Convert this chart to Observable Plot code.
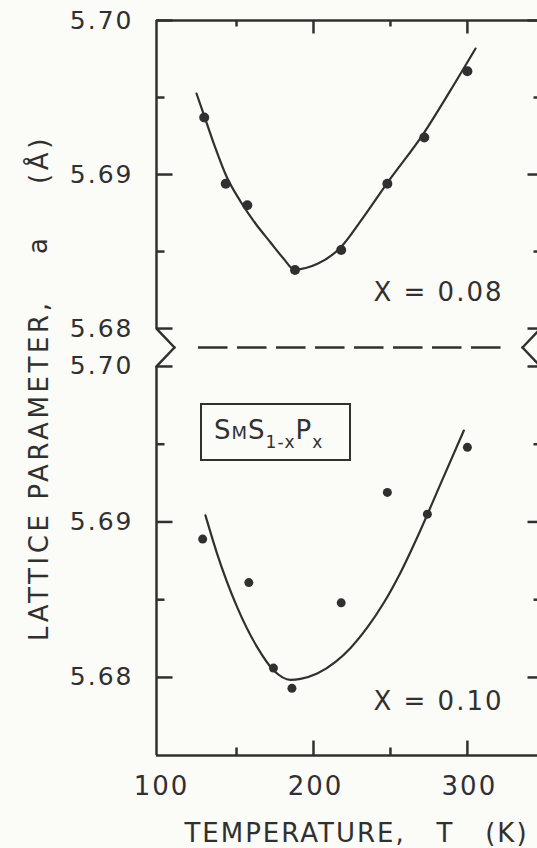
<!DOCTYPE html>
<html>
<head>
<meta charset="utf-8">
<script src="https://cdn.jsdelivr.net/npm/d3@7"></script>
<script src="https://cdn.jsdelivr.net/npm/@observablehq/plot@0.6"></script>
<style>
  html, body { margin: 0; padding: 0; background: #fbfbf8; }
  #wrap { position: relative; width: 537px; height: 848px; overflow: hidden; font-family: "DejaVu Sans"; color: #303030; }
  #wrap svg { display: block; }
  .yt { position: absolute; transform-origin: 0 0; transform: rotate(-90deg) translateY(-50%);
        white-space: pre; font-size: 26px; line-height: 30px; letter-spacing: 3.6px; }
  .formula { position: absolute; left: 200px; top: 403px; width: 151px; height: 58px; box-sizing: border-box;
             border: 2.5px solid #303030; font-size: 26px; line-height: 50px; padding-left: 12px; letter-spacing: 1px; white-space: nowrap; }
  .formula .sm { font-size: 18px; }
  .formula sub { font-size: 17px; vertical-align: -9px; line-height: 0; }
</style>
</head>
<body>
<div id="wrap">
  <div id="topPanel"></div>
  <div id="lowPanel"></div>
  <div class="yt" style="left:39px; top:641px;">LATTICE PARAMETER,</div>
  <div class="yt" style="left:38px; top:254px;">a</div>
  <div class="yt" style="left:39px; top:184px;">(Å)</div>
  <div class="formula">S<span class="sm">M</span>S<sub>1-x</sub>P<sub>x</sub></div>
</div>
<script>
// ---- data ----
// x = 0.08 panel: measured points
const tempTop = [129, 143, 157, 188, 218, 248, 272, 300];
const latTop  = [5.6937, 5.6894, 5.6880, 5.6838, 5.6851, 5.6894, 5.6924, 5.6967];
// x = 0.08 panel: drawn fit curve
const fitTopT = [124.0, 128.5, 135.7, 143.5, 152.6, 162.3, 172.1, 180.5, 187.7, 202.6, 217.6, 231.9, 248.1, 271.5, 289.0, 305.3];
const fitTopA = [5.69526, 5.69396, 5.69188, 5.68987, 5.68825, 5.68682, 5.68559, 5.68455, 5.68383, 5.68420, 5.68526, 5.68715, 5.68948, 5.69266, 5.69546, 5.69818];
// x = 0.10 panel: measured points
const tempLow = [128, 158, 174, 186, 218, 248, 274, 300];
const latLow  = [5.6889, 5.6861, 5.6806, 5.6793, 5.6848, 5.6919, 5.6905, 5.6948];
// x = 0.10 panel: drawn fit curve
const fitLowT = [129.8, 137.4, 150.4, 163.4, 174.2, 185.1, 191.6, 202.4, 214.3, 224.1, 235.1, 245.5, 256.5, 269.5, 282.5, 297.7];
const fitLowA = [5.69042, 5.68795, 5.68452, 5.68195, 5.68045, 5.67985, 5.67991, 5.68025, 5.68100, 5.68190, 5.68323, 5.68477, 5.68674, 5.68947, 5.69243, 5.69588];
// ticks and labels
const xTickLabels = [100, 200, 300];
const xMajorTicks = [200, 300];
const xMinorTicks = [150, 250];
const yMajorTicks = [5.68, 5.69, 5.70];
const yMinorTicks = [5.685, 5.695];
const panelLabels = ["X = 0.08", "X = 0.10"];
const xTitle = "TEMPERATURE,   T   (K)";

// ---- layout ----
const ink = "#303030";
const W = 537, ML = 156, MR = -3;
const xDomain = [98, 347.5];
const topDomain = [5.67877, 5.70];
const lowDomain = [5.67498, 5.70122];
const topH = 347, topMT = 20;
const lowH = 501, lowMB = 93;
const pxPerK = (W - MR - ML) / (xDomain[1] - xDomain[0]);
const pxPerATop = (topH - topMT) / (topDomain[1] - topDomain[0]);
const pxPerALow = (lowH - lowMB) / (lowDomain[1] - lowDomain[0]);
const zz = 18 / pxPerK; // depth of the axis-break zigzag

const obsTop = tempTop.map((t, i) => ({t, a: latTop[i]}));
const obsLow = tempLow.map((t, i) => ({t, a: latLow[i]}));
const fitTop = fitTopT.map((t, i) => ({t, a: fitTopA[i]}));
const fitLow = fitLowT.map((t, i) => ({t, a: fitLowA[i]}));

const common = {
  width: W, marginLeft: ML, marginRight: MR,
  x: {domain: xDomain, label: null, axis: null},
  style: {background: "transparent", overflow: "visible", fontFamily: "DejaVu Sans", color: ink, letterSpacing: "2px"}
};
const sw = 2.5;
const st = {stroke: ink, strokeWidth: sw};

// inward ticks on the left/right frame lines, plus y tick labels
function yTickMarks() {
  const L = px => px / pxPerK;
  const left = (vals, len) => vals.map(v => ({x1: xDomain[0], x2: xDomain[0] + L(len), y: v}));
  const right = (vals, len) => vals.map(v => ({x1: xDomain[1] - L(len), x2: xDomain[1], y: v}));
  const segs = [...left(yMajorTicks, 16), ...left(yMinorTicks, 8), ...right(yMajorTicks, 13), ...right(yMinorTicks, 7)];
  return [
    Plot.link(segs, {x1: "x1", x2: "x2", y1: "y", y2: "y", ...st}),
    Plot.axisY(yMajorTicks, {anchor: "left", tickSize: 0, tickPadding: 23, fontSize: 25, fill: ink, label: null, tickFormat: d3.format(".2f")})
  ];
}
// inward ticks on the top/bottom frame lines
function xTickMarks(base, dir, pxPerA, majLen, minLen) {
  const segs = [...xMajorTicks.map(v => ({x: v, y1: base, y2: base + dir * majLen / pxPerA})),
                ...xMinorTicks.map(v => ({x: v, y1: base, y2: base + dir * minLen / pxPerA}))];
  return Plot.link(segs, {x1: "x", x2: "x", y1: "y1", y2: "y2", ...st});
}

const topPlot = Plot.plot({
  ...common,
  height: topH, marginTop: topMT, marginBottom: 0,
  y: {domain: topDomain, label: null},
  marks: [
    Plot.ruleY([topDomain[1]], st),
    Plot.ruleX([xDomain[0]], {y1: yMajorTicks[0], y2: topDomain[1], ...st}),
    Plot.ruleX([xDomain[1]], {y1: yMajorTicks[0], y2: topDomain[1], ...st}),
    ...yTickMarks(),
    xTickMarks(topDomain[1], -1, pxPerATop, 13, 6),
    Plot.line([[xDomain[0], yMajorTicks[0]], [xDomain[0] + zz, topDomain[0]]], st),
    Plot.line([[xDomain[1], yMajorTicks[0]], [xDomain[1] - zz, topDomain[0]]], st),
    Plot.ruleY([topDomain[0]], {x1: 125.3, x2: 323, ...st, strokeDasharray: "29.5,9.5"}),
    Plot.line(fitTop, {x: "t", y: "a", curve: "monotone-x", stroke: ink, strokeWidth: 2.2}),
    Plot.dot(obsTop, {x: "t", y: "a", r: 5, fill: ink}),
    Plot.text([panelLabels[0]], {text: d => d, frameAnchor: "bottom-right", dx: -37, dy: -55, textAnchor: "end", lineAnchor: "middle", fontSize: 26, fill: ink})
  ]
});

const lowPlot = Plot.plot({
  ...common,
  height: lowH, marginTop: 0, marginBottom: lowMB,
  y: {domain: lowDomain, label: null},
  marks: [
    Plot.ruleY([lowDomain[0]], st),
    Plot.ruleX([xDomain[0]], {y1: lowDomain[0], y2: yMajorTicks[2], ...st}),
    Plot.ruleX([xDomain[1]], {y1: lowDomain[0], y2: yMajorTicks[2], ...st}),
    ...yTickMarks(),
    xTickMarks(lowDomain[0], 1, pxPerALow, 15, 8),
    Plot.axisX(xTickLabels, {anchor: "bottom", tickSize: 0, tickPadding: 21, dx: 2, fontSize: 26, fill: ink, label: null, tickFormat: d => String(d)}),
    Plot.text([xTitle], {text: d => d, frameAnchor: "bottom", dx: 8, dy: 78, lineAnchor: "middle", fontSize: 26, fill: ink}),
    Plot.line([[xDomain[0] + zz, lowDomain[1]], [xDomain[0], yMajorTicks[2]]], st),
    Plot.line([[xDomain[1] - zz, lowDomain[1]], [xDomain[1], yMajorTicks[2]]], st),
    Plot.line(fitLow, {x: "t", y: "a", curve: "monotone-x", stroke: ink, strokeWidth: 2.2}),
    Plot.dot(obsLow, {x: "t", y: "a", r: 4.5, fill: ink}),
    Plot.text([panelLabels[1]], {text: d => d, frameAnchor: "bottom-right", dx: -37, dy: -54, textAnchor: "end", lineAnchor: "middle", fontSize: 26, fill: ink})
  ]
});

document.getElementById("topPanel").append(topPlot);
document.getElementById("lowPanel").append(lowPlot);
</script>
</body>
</html>
